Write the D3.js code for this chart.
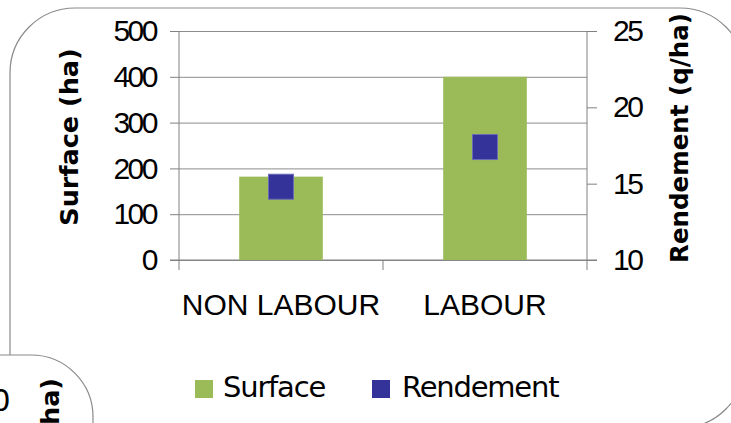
<!DOCTYPE html>
<html>
<head>
<meta charset="utf-8">
<script src="https://cdn.jsdelivr.net/npm/d3@7"></script>
<style>
  body { margin: 0; background: #fff; }
  svg { display: block; font-family: "DejaVu Sans", sans-serif; }
</style>
</head>
<body>
<div id="chart"></div>
<script>
// ---- data ----
const categories = ["NON LABOUR", "LABOUR"];
const surface = [182, 400];        // ha, left axis
const rendement = [14.8, 17.4];    // q/ha, right axis
const leftTicks = [0, 100, 200, 300, 400, 500];
const rightTicks = [10, 15, 20, 25];
const seriesNames = ["Surface", "Rendement"];

// ---- setup ----
const width = 731, height = 423;
const plot = { left: 179, right: 587, top: 31, bottom: 260 };
const green = "#9bbb59", blue = "#333399";

const svg = d3.select("#chart").append("svg")
    .attr("width", width)
    .attr("height", height);

// chart frame (rounded, runs past the right/bottom edge)
svg.append("rect")
    .attr("x", 10).attr("y", 8)
    .attr("width", 735).attr("height", 420)
    .attr("rx", 65).attr("ry", 65)
    .attr("fill", "#fff").attr("stroke", "#8a8a8a").attr("stroke-width", 1.2);

const x = d3.scaleBand().domain(categories).range([plot.left, plot.right]);
const yL = d3.scaleLinear().domain([0, 500]).range([plot.bottom, plot.top]);
const yR = d3.scaleLinear().domain([10, 25]).range([plot.bottom, plot.top]);

// gridlines + left axis
const leftAxis = d3.axisLeft(yL).tickValues(leftTicks).tickSize(9).tickPadding(14);
const gL = svg.append("g").attr("transform", `translate(${plot.left},0)`).call(leftAxis);
gL.selectAll(".tick")
    .append("line")
    .attr("class", "grid")
    .attr("x1", 0).attr("x2", plot.right - plot.left)
    .attr("stroke", "#8c8c8c");

// right axis
const rightAxis = d3.axisRight(yR).tickValues(rightTicks).tickSize(10).tickPadding(16);
const gR = svg.append("g").attr("transform", `translate(${plot.right},0)`).call(rightAxis);

// bottom axis
const bottomAxis = d3.axisBottom(x).tickSize(0).tickPadding(34);
const gB = svg.append("g").attr("transform", `translate(0,${plot.bottom})`).call(bottomAxis);
gB.select(".domain").remove();
gB.append("line")
    .attr("x1", plot.left - 9).attr("x2", plot.right + 10)
    .attr("stroke", "#808080");
[plot.left, plot.left + x.bandwidth(), plot.right].forEach(v => {
    gB.append("line").attr("x1", v).attr("x2", v).attr("y1", 0).attr("y2", 10)
        .attr("stroke", "#808080");
});

gL.select(".domain").remove();
gR.select(".domain").remove();
svg.selectAll(".tick line:not(.grid)").attr("stroke", "#808080");
svg.append("line").attr("x1", plot.left).attr("x2", plot.left)
    .attr("y1", plot.top).attr("y2", plot.bottom).attr("stroke", "#808080");
svg.append("line").attr("x1", plot.right).attr("x2", plot.right)
    .attr("y1", plot.top).attr("y2", plot.bottom).attr("stroke", "#808080");

svg.selectAll(".tick text")
    .attr("fill", "#000")
    .style("font-size", "30px")
    .style("letter-spacing", "-2.5px");
gB.selectAll(".tick text")
    .style("font-size", "30px")
    .style("letter-spacing", "0px");

// bars
const barW = x.bandwidth() * 0.41;
svg.append("g").selectAll("rect")
    .data(surface)
    .join("rect")
    .attr("x", (d, i) => x(categories[i]) + (x.bandwidth() - barW) / 2)
    .attr("y", d => yL(d))
    .attr("width", barW)
    .attr("height", d => yL(0) - yL(d))
    .attr("fill", green);

// markers
const m = 25;
svg.append("g").selectAll("rect")
    .data(rendement)
    .join("rect")
    .attr("x", (d, i) => x(categories[i]) + x.bandwidth() / 2 - m / 2)
    .attr("y", d => yR(d) - m / 2)
    .attr("width", m).attr("height", m)
    .attr("fill", blue)
    .attr("stroke", "#6b6bb8").attr("stroke-width", 1);

// axis titles
svg.append("text")
    .attr("transform", "translate(69,137) rotate(-90)")
    .attr("text-anchor", "middle").attr("dy", "0.35em")
    .style("font-size", "25.5px").style("font-weight", "bold")
    .text("Surface (ha)");
svg.append("text")
    .attr("transform", "translate(679,138) rotate(-90)")
    .attr("text-anchor", "middle").attr("dy", "0.35em")
    .style("font-size", "24.5px").style("font-weight", "bold")
    .text("Rendement (q/ha)");

// legend
const legend = svg.append("g");
const legendX = [195, 372];
seriesNames.forEach((name, i) => {
    legend.append("rect")
        .attr("x", legendX[i]).attr("y", 380)
        .attr("width", 18).attr("height", 18)
        .attr("fill", i === 0 ? green : blue);
    legend.append("text")
        .attr("x", legendX[i] + (i === 0 ? 28 : 30)).attr("y", 397)
        .style("font-size", "29px").style("letter-spacing", "-1.2px")
        .text(name);
});

// neighbouring chart peeking in at the bottom left
svg.append("rect")
    .attr("x", -200).attr("y", 355)
    .attr("width", 293).attr("height", 200)
    .attr("rx", 62).attr("ry", 62)
    .attr("fill", "#fff").attr("stroke", "#8a8a8a").attr("stroke-width", 1.2);
svg.append("text")
    .attr("x", 8).attr("y", 411)
    .attr("text-anchor", "end")
    .style("font-size", "30px").style("letter-spacing", "-2.5px")
    .text("500");
svg.append("text")
    .attr("transform", "translate(50,378) rotate(-90)")
    .attr("text-anchor", "end").attr("dy", "0.35em")
    .style("font-size", "25.5px").style("font-weight", "bold")
    .text("Surface (ha)");
</script>
</body>
</html>
